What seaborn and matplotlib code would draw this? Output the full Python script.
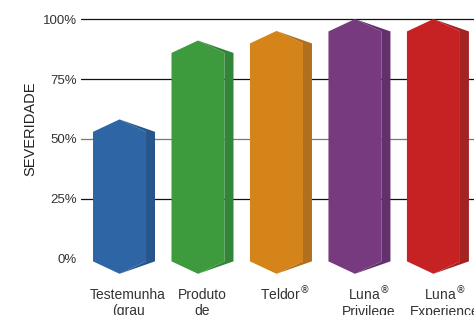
import pandas as pd
import seaborn as sns
import matplotlib.pyplot as plt
from matplotlib.patches import Polygon
from matplotlib.transforms import ScaledTranslation

# data
categories = ["Testemunha\n(grau", "Produto\nde", r"Teldor$^{\circledR}$",
              r"Luna$^{\circledR}$" + "\nPrivilege", r"Luna$^{\circledR}$" + "\nExperience"]
severity = [53, 86, 90, 95, 95]
front_colors = ["#2d65a5", "#3d9a3d", "#d5841a", "#773a7f", "#c72223"]
side_colors = ["#27568c", "#33853a", "#b0701e", "#62306a", "#a52222"]
tick_vals = [0, 25, 50, 75, 100]
tick_labels = ["0%", "25%", "50%", "75%", "100%"]
grid_vals = [25, 50, 75, 100]
grid_colors = ["#111111", "#777777", "#111111", "#111111"]
# labels in the original are not exactly centred under the bars (pixels)
label_dx = [4, 0, 4, 9, 7]
label_dy = [0, 0, 3, 3, 3]

sns.set_theme(style="white")
plt.rcParams['font.family'] = ['Liberation Sans Narrow', 'Liberation Sans', 'DejaVu Sans']

fig = plt.figure(figsize=(4.74, 3.15), dpi=100)
ax = fig.add_axes([0.1709, 0.1035, 0.829, 0.8422])

df = pd.DataFrame({"produto": categories, "severidade": severity})
sns.barplot(data=df, x="produto", y="severidade", hue="produto",
            palette=front_colors, width=0.79, legend=False, ax=ax)

# turn the flat bars into beveled "3D" columns
cap = 5.2
base = -1.2
for cont, fc, sc in zip(ax.containers, front_colors, side_colors):
    for bar in cont:
        x0 = bar.get_x()
        w = bar.get_width()
        top = bar.get_height()
        bar.set_visible(False)
        xs = x0 + w * 0.855
        x1 = x0 + w
        xc = (x0 + xs) / 2
        front = [(x0, top), (xc, top + cap), (xs, top), (xs, base),
                 (xc, base - cap), (x0, base)]
        side = [(xc, top + cap), (x1, top), (x1, base), (xc, base - cap),
                (xs, base), (xs, top)]
        ax.add_patch(Polygon(front, closed=True, facecolor=fc, edgecolor="none",
                             zorder=3, clip_on=False))
        ax.add_patch(Polygon(side, closed=True, facecolor=sc, edgecolor="none",
                             zorder=3, clip_on=False))

for g, c in zip(grid_vals, grid_colors):
    ax.axhline(g, color=c, lw=0.9, zorder=1)

ax.set_ylim(-10, 101)
ax.set_xlim(-0.548, 4.459)
ax.set_yticks(tick_vals)
ax.set_yticklabels(tick_labels)
ax.tick_params(axis="y", length=0, pad=3, labelsize=9.5, labelcolor="#333333")
ax.tick_params(axis="x", length=0, pad=4, labelsize=10, labelcolor="#333333")
for lab, dx, dy in zip(ax.get_xticklabels(), label_dx, label_dy):
    lab.set_linespacing(1.15)
    lab.set_transform(lab.get_transform() +
                      ScaledTranslation(dx / 100, dy / 100, fig.dpi_scale_trans))
ax.set_xlabel("")
ax.set_ylabel("SEVERIDADE", fontsize=10.5, color="#222222")
ax.yaxis.set_label_coords(-0.112, 0.58)
sns.despine(ax=ax, left=True, bottom=True)

fig.savefig("out.png", dpi=100)
